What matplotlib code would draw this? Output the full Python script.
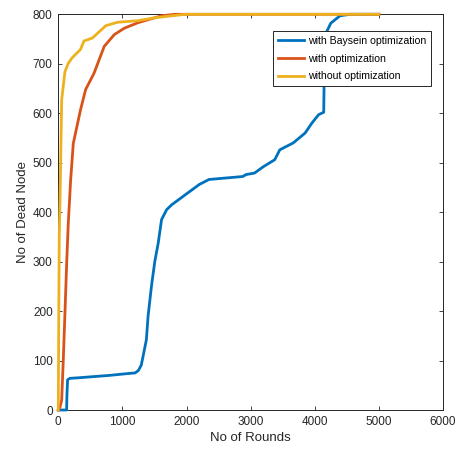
import matplotlib
matplotlib.use('Agg')
import matplotlib.pyplot as plt

plt.rcParams['font.family'] = ['Liberation Sans', 'DejaVu Sans']

# with Baysein optimization
bay_x = [0, 130, 135, 145, 182, 300, 500, 800, 1030, 1200, 1250, 1295, 1340, 1374,
         1400, 1453, 1505, 1558, 1611, 1690, 1770, 1875, 2000, 2085, 2200, 2350,
         2610, 2875, 2930, 3060, 3200, 3376, 3455, 3665, 3850, 3955, 4060, 4140,
         4150, 4160, 4187, 4250, 4394, 4550, 5000]
bay_y = [0, 0, 30, 61, 64, 65, 67, 70, 73, 75, 80, 91, 120, 142,
         189, 250, 300, 337, 385, 405, 415, 425, 437, 445, 456, 466,
         469, 472, 476, 479, 492, 506, 526, 540, 560, 580, 597, 602,
         700, 755, 765, 782, 797, 800, 800]

# with optimization
opt_x = [0, 25, 53, 78, 104, 131, 156, 193, 234, 347, 427, 558, 716, 874, 1032,
         1243, 1453, 1611, 1821, 2500, 5000]
opt_y = [0, 5, 20, 101, 196, 297, 378, 465, 539, 607, 648, 681, 735, 759, 772,
         783, 791, 797, 800, 800, 800]

# without optimization
wo_x = [0, 8, 15, 27, 53, 104, 156, 216, 347, 400, 532, 742, 927, 1243, 1505,
        1980, 5000]
wo_y = [0, 200, 350, 425, 627, 684, 701, 712, 729, 746, 752, 777, 784, 787, 793,
        800, 800]

fig = plt.figure(figsize=(4.6, 4.58), dpi=100)
ax = fig.add_axes([0.1267, 0.1048, 0.8363, 0.864])

ax.plot(bay_x, bay_y, color='#0072BD', lw=2, label='with Baysein optimization', clip_on=False)
ax.plot(opt_x, opt_y, color='#D95319', lw=2, label='with optimization', clip_on=False)
ax.plot(wo_x, wo_y, color='#EDB120', lw=2, label='without optimization', clip_on=False)

ax.set_xlim(0, 6000)
ax.set_ylim(0, 800)
ax.set_xticks(range(0, 6001, 1000))
ax.set_yticks(range(0, 801, 100))
ax.tick_params(direction='in', top=True, right=True, length=3, width=0.6,
               labelsize=8.5, colors='#262626', pad=4)
for s in ax.spines.values():
    s.set_color('#262626')
    s.set_linewidth(0.7)
    s.set_zorder(1)

ax.set_xlabel('No of Rounds', fontsize=9.5, color='#262626', labelpad=3)
ax.set_ylabel('No of Dead Node', fontsize=9.5, color='#262626', labelpad=3)

leg = ax.legend(loc='upper right', bbox_to_anchor=(0.969, 0.958), borderaxespad=0,
                fontsize=7.6, fancybox=False, framealpha=1, edgecolor='#262626',
                handlelength=2.5, handletextpad=0.35, labelspacing=0.75,
                borderpad=0.45)
leg.get_frame().set_linewidth(0.7)

fig.savefig('out.png', dpi=100)
